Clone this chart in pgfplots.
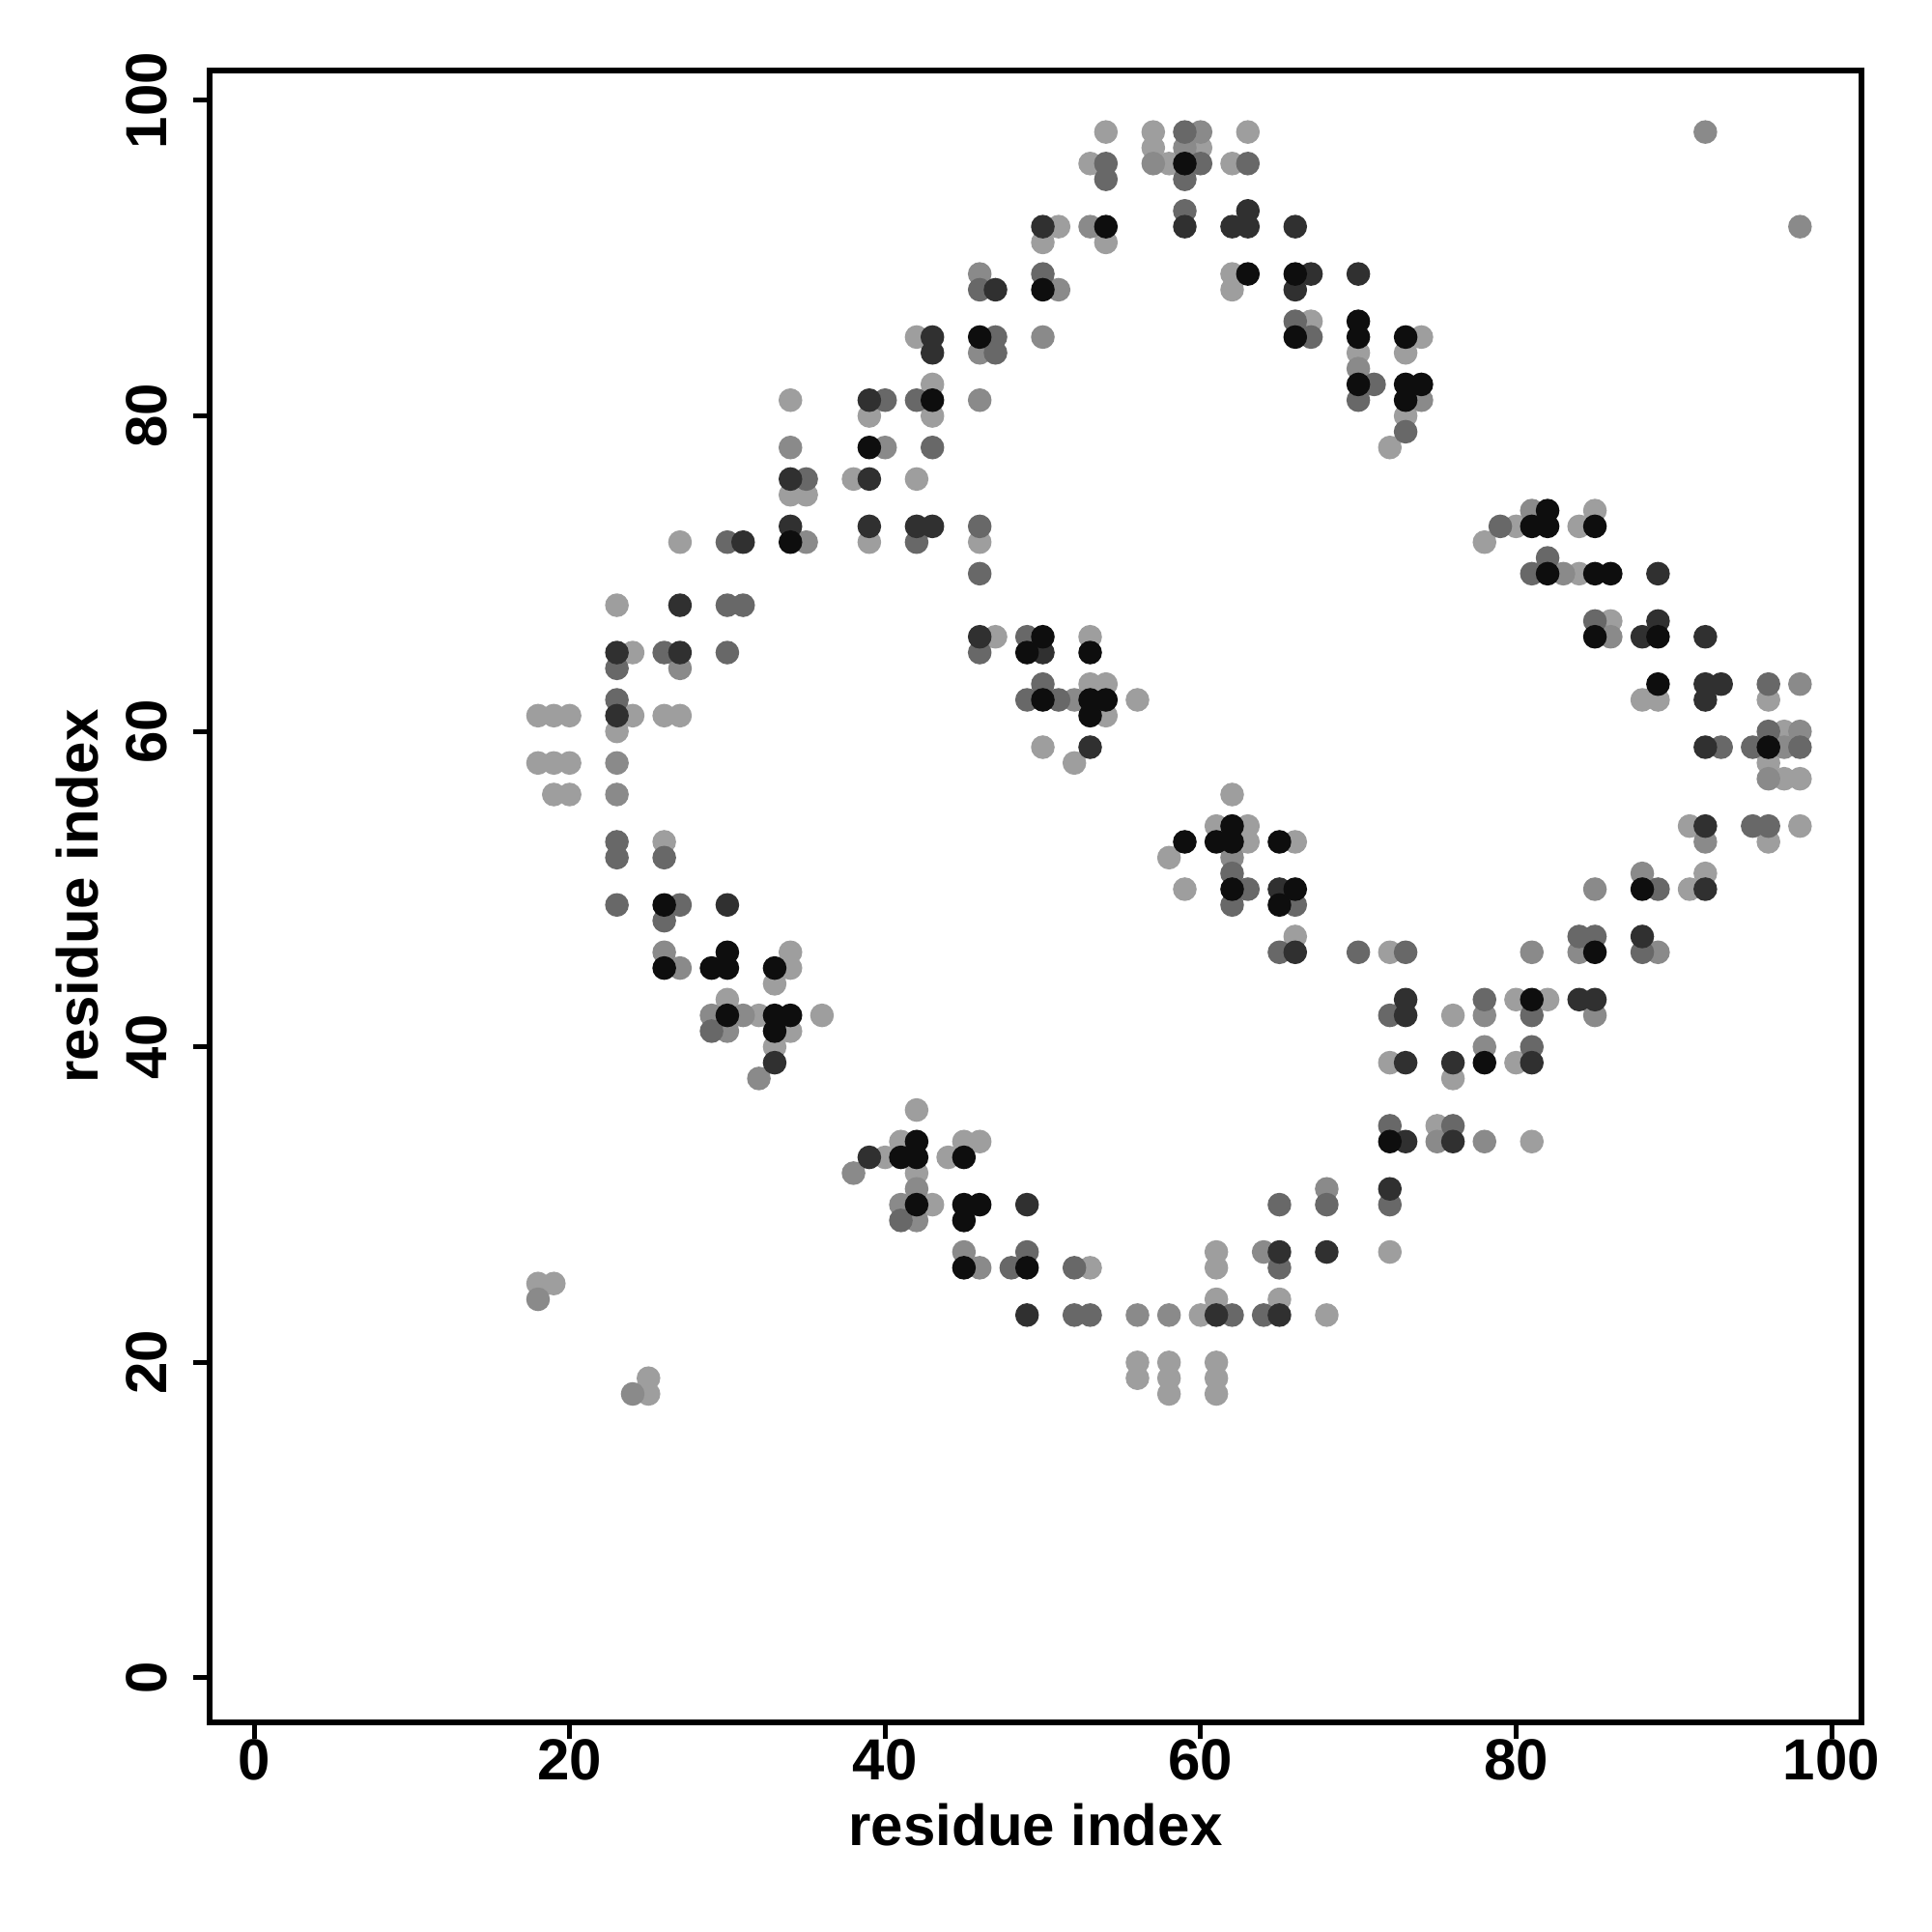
\documentclass[border=0pt]{standalone}
\usepackage{fontspec}
\setmainfont{Liberation Sans}
\usepackage{pgfplots}
\pgfplotsset{compat=1.18}

\definecolor{cL}{HTML}{9E9E9E}
\definecolor{cP}{HTML}{8A8A8A}
\definecolor{cM}{HTML}{686868}
\definecolor{cD}{HTML}{303030}
\definecolor{cK}{HTML}{0E0E0E}

\pgfplotsset{dots/.style={only marks, mark=*, mark size=2.25pt, color=#1}}

\begin{document}
\begin{tikzpicture}
\begin{axis}[
    scale only axis,
    width=342pt, height=342pt,
    xmin=-2.82, xmax=101.9, ymin=-2.82, ymax=101.9,
    xtick={0,20,...,100}, ytick={0,20,...,100},
    xtick pos=left, ytick pos=left,
    tick align=outside,
    major tick length=3.4pt,
    tick style={line width=1pt, black},
    axis line style={line width=1.05pt},
    /pgf/number format/assume math mode=true,
    ticklabel style={font=\fontsize{12}{14}\selectfont\bfseries},
    xticklabel style={yshift=3.5pt},
    yticklabel style={rotate=90, anchor=south, yshift=1.8pt},
    xlabel={residue index}, ylabel={residue index},
    label style={font=\fontsize{12}{14}\selectfont\bfseries},
    xlabel style={at={(axis description cs:0.5,0)}, anchor=base, yshift=-25.4pt},
    ylabel style={at={(axis description cs:0,0.5)}, anchor=base, yshift=23pt},
]
% light
\addplot[dots=cL] coordinates {
(54,98)(57,98)(63,98)(57,97)(60,97)(53,96)(58,96)(62,96)(51,92)(50,91)(54,91)
(62,89)(62,88)(67,86)(42,85)(74,85)(70,84)(73,84)(43,82)(34,81)
(39,80)(43,80)(73,80)(72,78)(38,76)(42,76)(34,75)(35,75)(85,74)(80,73)(84,73)
(27,72)(39,72)(46,72)(78,72)(84,70)(23,68)(86,67)(47,66)(53,66)(24,65)
(53,63)(54,63)(56,62)(88,62)(89,62)(96,62)
(18,61)(19,61)(20,61)(24,61)(26,61)(27,61)(54,61)(23,60)(97,60)(50,59)
(18,58)(19,58)(20,58)(52,58)(96,58)(97,57)(98,57)(19,56)(20,56)(62,56)
(61,54)(63,54)(91,54)(98,54)(26,53)(63,53)(66,53)(96,53)(58,52)(92,51)
(59,50)(91,50)(66,47)(34,46)(72,46)(34,45)(33,44)(30,43)(80,43)(82,43)
(32,42)(36,42)(76,42)(34,41)(33,40)(72,39)(80,39)(76,38)(42,36)(75,35)
(41,34)(45,34)(46,34)(81,34)(40,33)(44,33)(42,32)(43,30)(61,27)(72,27)
(53,26)(61,26)(18,25)(19,25)(61,24)(65,24)(60,23)(68,23)
(56,20)(58,20)(61,20)(25,19)(56,19)(58,19)(61,19)(25,18)(58,18)(61,18)
};
% pale grey
\addplot[dots=cP] coordinates {
(60,98)(92,98)(59,97)(57,96)(53,92)(98,92)(46,89)(51,88)(50,85)(46,84)(70,83)
(46,81)(74,81)(34,78)(40,78)(81,74)(35,72)(83,70)(86,66)(27,64)(52,62)(98,63)
(98,60)(97,59)(23,58)(96,57)(23,56)(92,53)(62,52)(88,51)(85,50)
(26,46)(81,46)(84,46)(89,46)(27,45)(29,42)(31,42)(78,42)(85,42)(30,41)(78,40)
(32,38)(75,34)(78,34)(38,32)(42,31)(68,31)(41,30)(42,29)(45,27)(64,27)(46,26)
(18,24)(56,23)(58,23)(24,18)
};
% mid grey
\addplot[dots=cM] coordinates {
(59,98)(54,96)(60,96)(63,96)(54,95)(59,95)(59,93)(50,89)(46,88)(66,86)
(47,85)(67,85)(47,84)(71,82)(40,81)(42,81)(70,81)(73,79)(43,78)(35,76)
(46,73)(79,73)(30,72)(42,72)(82,71)(46,70)(81,70)(30,68)(31,68)(85,67)(49,66)
(26,65)(30,65)(46,65)(23,64)(50,63)(96,63)(23,62)(49,62)(51,62)(96,60)
(93,59)(95,59)(98,59)(95,54)(96,54)(23,53)(23,52)(26,52)(62,51)(63,50)(89,50)
(23,49)(27,49)(62,49)(66,49)(26,48)(84,47)(85,47)(65,46)(70,46)(73,46)(88,46)
(78,43)(72,42)(81,42)(29,41)(81,40)(72,35)(76,35)(41,29)(65,30)(68,30)(72,30)
(49,27)(48,26)(52,26)(65,26)(52,23)(53,23)(62,23)(64,23)
};
% dark grey
\addplot[dots=cD] coordinates {
(63,93)(50,92)(59,92)(62,92)(63,92)(66,92)(67,89)(70,89)(47,88)(66,88)
(43,85)(43,84)(39,81)(34,76)(39,76)(34,73)(39,73)(42,73)(43,73)(31,72)
(89,70)(27,68)(89,67)(46,66)(88,66)(92,66)(23,65)(27,65)(50,65)(92,63)(93,63)
(92,62)(23,61)(53,59)(92,59)(92,54)(65,50)(92,50)(30,49)(88,47)(66,46)
(73,43)(84,43)(85,43)(73,42)(33,39)(73,39)(76,39)(81,39)(73,34)(76,34)(39,33)
(72,31)(49,30)(65,27)(68,27)(49,23)(61,23)(65,23)
};
% near black
\addplot[dots=cK] coordinates {
(59,96)(54,92)(63,89)(66,89)(50,88)(70,86)(46,85)(66,85)(70,85)(73,85)
(70,82)(73,82)(74,82)(43,81)(73,81)(39,78)(82,74)(81,73)(82,73)(85,73)(34,72)
(82,70)(85,70)(86,70)(50,66)(85,66)(89,66)(49,65)(53,65)(89,63)
(50,62)(53,62)(54,62)(53,61)(96,59)(62,54)(59,53)(61,53)(62,53)(65,53)
(62,50)(66,50)(88,50)(26,49)(65,49)(30,46)(85,46)(26,45)(29,45)(30,45)(33,45)
(81,43)(30,42)(33,42)(34,42)(33,41)(78,39)(42,34)(72,34)(41,33)(42,33)(45,33)
(42,30)(45,30)(46,30)(45,29)(45,26)(49,26)
};
\end{axis}
\path[use as bounding box] ([shift={(-43.4pt,-43.4pt)}]current axis.south west)
    rectangle ([shift={(14.6pt,14.6pt)}]current axis.north east);
\end{tikzpicture}
\end{document}
